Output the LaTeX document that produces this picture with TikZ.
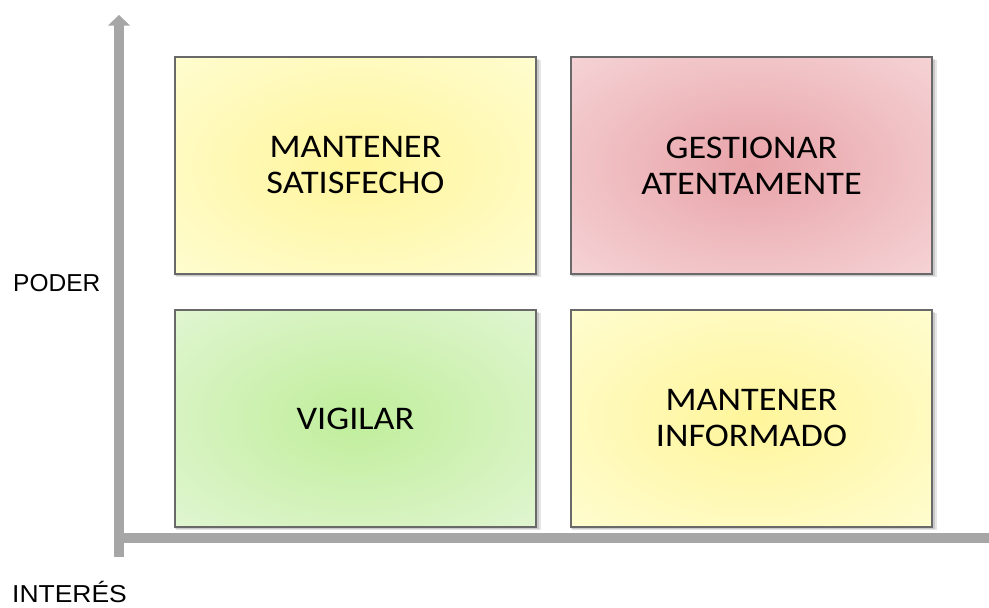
\documentclass[tikz,border=0pt]{standalone}
\usepackage{fontspec}
\setmainfont{Carlito}
\newfontfamily\boxfont[FakeStretch=1.1]{Carlito}
\newfontfamily\axisfont{Liberation Sans}
\usetikzlibrary{arrows.meta}
\definecolor{axisgray}{RGB}{166,166,166}
\definecolor{boxborder}{RGB}{105,105,105}
\definecolor{ylwin}{RGB}{255,245,155}
\definecolor{ylwout}{RGB}{255,255,226}
\definecolor{redin}{RGB}{232,163,168}
\definecolor{redout}{RGB}{250,228,230}
\definecolor{grnin}{RGB}{192,238,155}
\definecolor{grnout}{RGB}{236,248,228}
\pgfdeclareradialshading{ylwshade}{\pgfpoint{0bp}{0bp}}{color(0bp)=(ylwin); color(48bp)=(ylwout); color(80bp)=(ylwout)}
\pgfdeclareradialshading{redshade}{\pgfpoint{0bp}{0bp}}{color(0bp)=(redin); color(48bp)=(redout); color(80bp)=(redout)}
\pgfdeclareradialshading{grnshade}{\pgfpoint{0bp}{0bp}}{color(0bp)=(grnin); color(48bp)=(grnout); color(80bp)=(grnout)}
\tikzset{
  quadbox/.style={draw=boxborder, line width=1.6pt, minimum width=361pt, minimum height=217pt,
    inner sep=0pt, align=center, font=\boxfont\fontsize{33}{36}\selectfont, text=black},
  axislabel/.style={font=\axisfont\fontsize{24.5}{28}\selectfont, text=black, inner sep=0pt},
  axisline/.style={draw=axisgray, line width=10pt}
}
\newcommand{\softshadow}[1]{%
  \fill[black, opacity=0.10] ([xshift=2pt,yshift=-2pt]#1.south west) rectangle ([xshift=4pt,yshift=-4pt]#1.north east);
  \fill[black, opacity=0.12] ([xshift=1pt,yshift=-1pt]#1.south west) rectangle ([xshift=2.5pt,yshift=-2.5pt]#1.north east);
}
\begin{document}
\begin{tikzpicture}[x=1pt,y=-1pt]
\useasboundingbox[fill=white] (0,0) rectangle (989,608);
% axes
\coordinate (vbot) at (119,557);
\coordinate (vtop) at (119,25);
\coordinate (htip) at (989,538);
\coordinate (hstart) at (114,538);
\draw[axisline] (vbot) -- (vtop);
\fill[axisgray] (108,25.5) -- (119,15) -- (130,25.5) -- cycle;
\draw[axisline, line cap=butt] (hstart) -- (htip);
% boxes
\coordinate (tlc) at (355.5,165.5);
\coordinate (trc) at (751.5,165.5);
\coordinate (blc) at (355.5,418.5);
\coordinate (brc) at (751.5,418.5);
\node[quadbox, opacity=0] (tlghost) at (tlc) {};
\node[quadbox, opacity=0] (trghost) at (trc) {};
\node[quadbox, opacity=0] (blghost) at (blc) {};
\node[quadbox, opacity=0] (brghost) at (brc) {};
\softshadow{tlghost}
\softshadow{trghost}
\softshadow{blghost}
\softshadow{brghost}
\node[quadbox, shading=ylwshade] (tl) at (tlc) {MANTENER\\SATISFECHO};
\node[quadbox, shading=redshade] (tr) at (trc) {GESTIONAR\\ATENTAMENTE};
\node[quadbox, shading=grnshade] (bl) at (blc) {VIGILAR};
\node[quadbox, shading=ylwshade] (br) at (brc) {MANTENER\\INFORMADO};
% labels
\node[axislabel, anchor=west] (poder) at (13,283) {PODER};
\node[axislabel, anchor=base west, xscale=1.08] (interes) at (12,602) {INTERÉS};
\end{tikzpicture}
\end{document}
